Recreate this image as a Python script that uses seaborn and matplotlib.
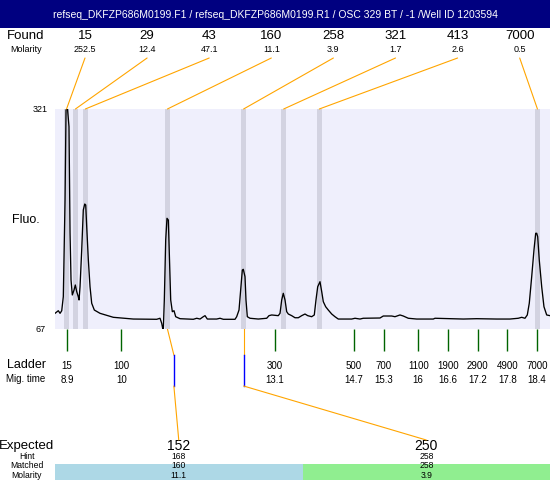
import numpy as np
import pandas as pd
import seaborn as sns
import matplotlib.pyplot as plt
from matplotlib.patches import ConnectionPatch, Rectangle

title = 'refseq_DKFZP686M0199.F1 / refseq_DKFZP686M0199.R1 / OSC 329 BT / -1 /Well ID 1203594'

# electropherogram trace (migration time s, fluorescence)
mig_time = [8.657, 8.724, 8.759, 8.793, 8.825, 8.860, 8.880, 8.894, 8.910, 8.940,
            8.961, 8.981, 9.007, 9.042, 9.068, 9.096, 9.128, 9.143, 9.163, 9.197,
            9.229, 9.258, 9.278, 9.298, 9.331, 9.365, 9.399, 9.452, 9.567, 9.836,
            10.240, 10.713, 10.780, 10.814, 10.834, 10.847, 10.867, 10.895, 10.921, 10.948,
            10.968, 10.996, 11.029, 11.063, 11.097, 11.184, 11.453, 11.522, 11.589, 11.655,
            11.690, 11.736, 11.926, 11.993, 12.060, 12.296, 12.330, 12.377, 12.411, 12.444,
            12.464, 12.498, 12.518, 12.545, 12.599, 12.767, 12.937, 12.983, 13.038, 13.171,
            13.206, 13.240, 13.272, 13.307, 13.341, 13.374, 13.442, 13.509, 13.576, 13.644,
            13.711, 13.766, 13.846, 13.899, 13.933, 13.968, 14.014, 14.049, 14.081, 14.129,
            14.182, 14.251, 14.317, 14.384, 14.655, 14.722, 14.823, 14.889, 15.227, 15.294,
            15.464, 15.530, 15.631, 15.698, 15.799, 15.969, 16.304, 16.339, 16.642, 16.911,
            17.182, 17.586, 17.855, 18.023, 18.092, 18.158, 18.205, 18.245, 18.294, 18.340,
            18.375, 18.395, 18.415, 18.447, 18.496, 18.542, 18.597, 18.664]
fluo = [85.1, 88.1, 85.1, 88.1, 104.3, 215.9, 319.8, 321.0, 321.0, 300.6,
        177.8, 123.6, 106.3, 112.0, 117.8, 110.1, 104.3, 100.5, 115.8, 158.2,
        204.4, 211.3, 210.2, 185.1, 146.7, 115.8, 96.7, 88.9, 85.1, 80.5,
        78.5, 78.2, 79.4, 73.6, 67.8, 67.3, 100.5, 169.8, 194.8, 192.8,
        154.4, 100.5, 87.0, 88.1, 81.2, 78.9, 78.2, 79.4, 78.5, 81.2,
        82.4, 78.5, 78.5, 79.4, 78.2, 78.2, 81.2, 88.9, 112.0, 135.1,
        135.9, 127.4, 100.5, 81.2, 79.4, 78.5, 79.4, 82.4, 83.2, 82.4,
        85.1, 100.5, 108.2, 100.5, 87.0, 84.3, 82.4, 80.0, 80.0, 82.4,
        84.3, 82.4, 81.2, 83.2, 100.5, 115.8, 121.6, 110.1, 98.5, 92.7,
        88.9, 84.3, 81.2, 78.5, 78.5, 79.4, 78.5, 79.4, 79.7, 82.0,
        82.0, 81.2, 83.2, 82.0, 79.4, 78.5, 78.5, 79.4, 78.9, 78.5,
        78.9, 78.5, 78.5, 79.4, 80.5, 79.4, 83.2, 96.7, 127.4, 158.2,
        177.5, 177.5, 173.6, 146.7, 115.8, 92.7, 83.2, 82.4]

found_size = [15, 29, 43, 160, 258, 321, 413, 7000]
found_molarity = [252.5, 12.4, 47.1, 11.1, 3.9, 1.7, 2.6, 0.5]
found_time = [8.89, 9.07, 9.27, 10.93, 12.47, 13.28, 14.00, 18.41]

ladder_size = [15, 100, 300, 500, 700, 1100, 1900, 2900, 4900, 7000]
ladder_time = [8.9, 10, 13.1, 14.7, 15.3, 16, 16.6, 17.2, 17.8, 18.4]

expected = [152, 250]
hint = [168, 258]
matched = [160, 258]
matched_molarity = [11.1, 3.9]
matched_time = [10.93, 12.47]
hint_time = [11.06, 12.47]
match_colors = ['lightblue', 'lightgreen']

plt.rcParams['font.family'] = ['Liberation Sans', 'DejaVu Sans']
fig = plt.figure(figsize=(5.5, 4.8), dpi=100)

# whole-figure layer in pixel units
bg = fig.add_axes([0, 0, 1, 1])
bg.set_xlim(0, 550)
bg.set_ylim(480, 0)
bg.axis('off')

# main trace panel
ax = fig.add_axes([55/550, 151/480, 495/550, 220/480])
ax.set_facecolor('#efeffc')
ax.set_xlim(8.657, 18.664)
ax.set_ylim(67, 321)
for s in ax.spines.values():
    s.set_visible(False)
for t in found_time:
    ax.axvspan(t - 0.05, t + 0.05, color='#d3d3e1', lw=0)
df = pd.DataFrame({'time': mig_time, 'fluo': fluo})
sns.lineplot(data=df, x='time', y='fluo', color='black', lw=0.95, ax=ax)
ax.set_xticks([])
ax.set_yticks([])
ax.set_xlabel('')
ax.set_ylabel('')

# ladder panel under the trace, same time axis
axb = fig.add_axes([55/550, 0, 495/550, 151/480])
axb.set_xlim(8.657, 18.664)
axb.set_ylim(480, 329)
axb.axis('off')

# banner
bg.add_patch(Rectangle((0, 0), 550, 28, color='#000080', lw=0))
bg.text(275, 15.5, title, color='white', ha='center', va='center', fontsize=7.5)

# found peaks
bg.text(26, 36, 'Found', ha='center', va='center', fontsize=9.5)
bg.text(26, 49, 'Molarity', ha='center', va='center', fontsize=6.5)
for i in range(len(found_size)):
    x = 85 + 62.1 * i
    bg.text(x, 36, str(found_size[i]), ha='center', va='center', fontsize=9.5)
    bg.text(x, 49, f'{found_molarity[i]:g}', ha='center', va='center', fontsize=6.5)
    con = ConnectionPatch(xyA=(x, 58), coordsA=bg.transData,
                          xyB=(found_time[i], 321), coordsB=ax.transData,
                          color='orange', lw=0.8)
    fig.add_artist(con)

bg.text(40.5, 110, '321', ha='center', va='center', fontsize=6.5)
bg.text(40.5, 330, '67', ha='center', va='center', fontsize=6.5)
bg.text(26, 220, 'Fluo.', ha='center', va='center', fontsize=9)

# ladder
axb.vlines(ladder_time, 329, 351, color='darkgreen', lw=1)
for s, t in zip(ladder_size, ladder_time):
    axb.text(t, 365.5, str(s), ha='center', va='center', fontsize=7)
    axb.text(t, 379.5, f'{t:g}', ha='center', va='center', fontsize=7)
bg.text(26, 365.5, 'Ladder', ha='center', va='center', fontsize=9)
bg.text(26, 379.5, 'Mig. time', ha='center', va='center', fontsize=7)

# expected / matched table
w = 495 / len(expected)
rows_y = [456.5, 466, 475.5]
for i in range(len(expected)):
    cx = 55 + w * (i + 0.5)
    axb.plot([matched_time[i], hint_time[i]], [329, 355], color='orange', lw=0.8)
    axb.plot([hint_time[i], hint_time[i]], [355, 386], color='blue', lw=1)
    con = ConnectionPatch(xyA=(hint_time[i], 386), coordsA=axb.transData,
                          xyB=(cx, 440), coordsB=bg.transData,
                          color='orange', lw=0.8)
    fig.add_artist(con)
    bg.add_patch(Rectangle((55 + w * i, 463.7), w, 16.3, color=match_colors[i], lw=0))
    bg.text(cx, 445.5, str(expected[i]), ha='center', va='center', fontsize=10)
    vals = [str(hint[i]), str(matched[i]), f'{matched_molarity[i]:g}']
    for v, y in zip(vals, rows_y):
        bg.text(cx, y, v, ha='center', va='center', fontsize=6.2)
bg.text(27, 445.5, 'Expected', ha='center', va='center', fontsize=9.5)
for lab, y in zip(['Hint', 'Matched', 'Molarity'], rows_y):
    bg.text(27, y, lab, ha='center', va='center', fontsize=6.2)

plt.savefig('out.png', dpi=100)
